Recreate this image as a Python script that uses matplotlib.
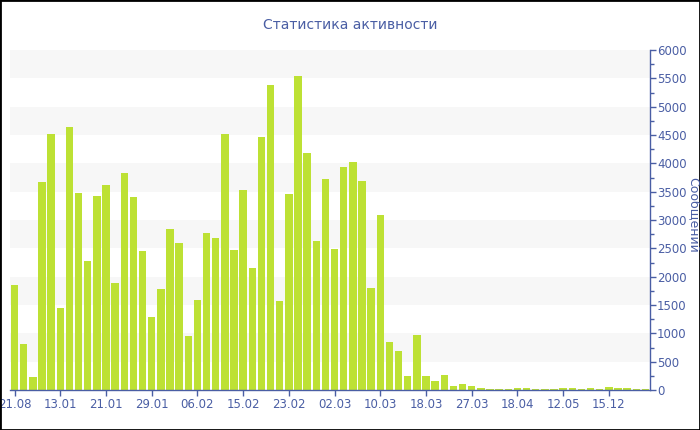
import matplotlib
matplotlib.use("Agg")
import matplotlib.pyplot as plt
from matplotlib.patches import Rectangle
from matplotlib.ticker import MultipleLocator

title = "Статистика активности"
ylabel = "Сообщений"

values = [1850, 815, 225, 3675, 4525, 1445, 4650, 3470, 2285, 3430,
          3625, 1880, 3830, 3400, 2460, 1290, 1775, 2850, 2595, 950,
          1585, 2775, 2675, 4510, 2465, 3535, 2155, 4460, 5385, 1570,
          3465, 5550, 4185, 2635, 3715, 2490, 3935, 4020, 3695, 1800,
          3080, 845, 695, 255, 975, 250, 160, 260, 70, 100,
          70, 30, 18, 18, 18, 35, 30, 18, 18, 18,
          30, 30, 18, 30, 18, 59, 35, 35, 18, 18]

tick_labels = ["21.08", "13.01", "21.01", "29.01", "06.02", "15.02", "23.02",
               "02.03", "10.03", "18.03", "27.03", "18.04", "12.05", "15.12"]
tick_step = 5

blue = "#4a5ea4"
bar_color = "#bde134"
band_color = "#f7f7f7"

fig = plt.figure(figsize=(7, 4.3), dpi=100)
fig.patch.set_facecolor("white")
ax = fig.add_axes([10 / 700, 40 / 430, 640 / 700, 340 / 430])

n = len(values)
x = list(range(n))

for lo in range(500, 6000, 1000):
    ax.axhspan(lo, lo + 500, color=band_color, zorder=0, lw=0)

ax.bar(x, values, width=0.8, color=bar_color, zorder=2, linewidth=0)

ax.set_xlim(-0.5, n - 0.5)
ax.set_ylim(0, 6000)

ax.set_xticks(list(range(0, n, tick_step))[:len(tick_labels)])
ax.set_xticklabels(tick_labels)

ax.yaxis.tick_right()
ax.yaxis.set_major_locator(MultipleLocator(500))
ax.yaxis.set_minor_locator(MultipleLocator(250))

for s in ["left", "top"]:
    ax.spines[s].set_visible(False)
for s in ["bottom", "right"]:
    ax.spines[s].set_color(blue)
    ax.spines[s].set_linewidth(1.0)

ax.tick_params(axis="x", colors=blue, labelsize=8.5, length=4, width=1, direction="out", pad=2)
ax.tick_params(axis="y", which="major", colors=blue, labelsize=8.5, length=4, width=1, direction="out", pad=1)
ax.tick_params(axis="y", which="minor", colors=blue, length=3, width=1, direction="out")
for lbl in ax.get_xticklabels() + ax.get_yticklabels():
    lbl.set_color(blue)

fig.text(0.5, 1 - 25 / 430, title, ha="center", va="center", fontsize=10, color=blue)
fig.text(693 / 700, 1 - 215 / 430, ylabel, ha="center", va="center", rotation=270,
         fontsize=9, color=blue)

fig.add_artist(Rectangle((0, 0), 1, 1, transform=fig.transFigure, fill=False,
                         edgecolor="black", linewidth=2, clip_on=False))

fig.savefig("out.png", dpi=100)
